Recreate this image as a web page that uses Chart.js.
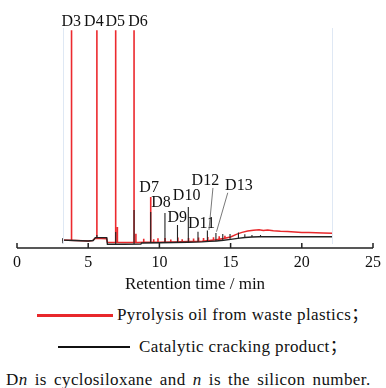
<!DOCTYPE html>
<html>
<head>
<meta charset="utf-8">
<script src="https://cdn.jsdelivr.net/npm/chart.js@4.4.0/dist/chart.umd.min.js"></script>
<style>
  body { margin: 0; background: #fff; }
  #wrap { position: relative; width: 386px; height: 388px; }
  #chart { position: absolute; left: 0; top: 0; }
  .leg { position: absolute; font-family: "Liberation Serif", "Noto Sans CJK SC", serif; font-size: 17px; line-height: 20px; letter-spacing: 0.4px; color: #111; white-space: nowrap; }
  .swatch { position: absolute; }
</style>
</head>
<body>
<div id="wrap">
  <canvas id="chart" width="386" height="300"></canvas>
  <div class="swatch" style="left:37px; top:314px; width:76px; height:3px; background:#e8282b;"></div>
  <div class="leg" style="left:117px; top:305px;">Pyrolysis oil from waste plastics；</div>
  <div class="swatch" style="left:58px; top:346px; width:72px; height:2px; background:#111;"></div>
  <div class="leg" style="left:139px; top:337px;">Catalytic cracking product；</div>
  <div class="leg" style="left:6px; top:370px; word-spacing:2.5px;">D<i>n</i> is cyclosiloxane and <i>n</i> is the silicon number.</div>
</div>
<script>
// retention time (min) and detector response (arbitrary units)
const redBaseTime = [3.2, 3.6, 4.2, 5.0, 5.3, 5.5, 6.3, 6.35, 7.5, 8.5, 9.0, 10.0, 11.0, 12.0, 13.0, 13.5, 14.0, 14.5, 15.0, 15.4, 15.8, 16.2, 16.6, 17.0, 17.3, 17.6, 18.0, 18.5, 19.0, 19.5, 20.0, 20.5, 21.0, 21.5, 22.15];
const redBaseValue = [3.6, 3.5, 3.4, 3.2, 3.4, 4.4, 4.2, 2.6, 2.5, 2.5, 2.6, 2.6, 2.7, 2.9, 3.1, 3.4, 3.8, 4.3, 5.0, 6.2, 7.1, 7.7, 8.1, 8.3, 8.0, 8.2, 7.8, 7.6, 7.5, 7.3, 7.1, 7.0, 6.9, 6.8, 6.7];

const redPeakTime = [3.83, 5.61, 6.93, 7.05, 8.22, 8.35, 8.9, 9.39, 9.6, 9.9, 10.4, 10.8, 11.3, 11.6, 12.05, 12.4, 12.75, 13.1, 13.4, 13.8, 14.2, 14.6];
const redPeakTop = [99, 99, 99, 9.5, 99, 6.5, 4.2, 23.2, 4.0, 4.4, 4.6, 3.9, 4.8, 4.0, 4.5, 4.3, 4.8, 4.6, 5.0, 4.9, 5.3, 5.6];
const redPeakFoot = [3.4, 4.3, 2.5, 2.5, 2.5, 2.5, 2.6, 2.6, 2.6, 2.6, 2.7, 2.7, 2.8, 2.8, 2.9, 3.0, 3.1, 3.2, 3.4, 3.6, 3.9, 4.3];

const blackBaseTime = [3.2, 4.0, 5.0, 5.35, 5.5, 6.3, 6.35, 7.5, 8.7, 8.75, 10.0, 11.0, 12.0, 13.0, 13.5, 14.0, 14.5, 15.0, 15.5, 16.0, 16.5, 17.0, 18.0, 20.0, 22.15];
const blackBaseValue = [3.6, 3.4, 3.2, 3.4, 4.7, 4.7, 1.7, 1.7, 1.8, 2.3, 2.4, 2.5, 2.6, 2.8, 3.0, 3.2, 3.5, 3.9, 4.4, 4.8, 5.0, 5.1, 5.1, 5.1, 5.1];

const blackPeakTime = [3.22, 5.61, 6.93, 8.22, 9.39, 10.39, 11.27, 12.03, 12.71, 13.37, 13.97, 14.45, 14.96, 15.55, 16.0, 16.5, 17.1, 17.75, 18.6, 19.6];
const blackPeakTop = [4.6, 5.9, 7.3, 17.3, 16.4, 15.9, 10.5, 18.6, 7.4, 7.9, 6.8, 6.4, 6.4, 7.0, 6.2, 5.9, 5.9, 5.5, 5.3, 5.3];
const blackPeakFoot = [2.2, 4.7, 1.7, 1.8, 2.3, 2.4, 2.5, 2.6, 2.7, 2.9, 3.2, 3.4, 3.9, 4.4, 4.8, 5.0, 5.1, 5.1, 5.1, 5.1];

// peak names and where they sit (time, response)
const peakLabels = ['D3', 'D4', 'D5', 'D6', 'D7', 'D8', 'D9', 'D10', 'D11', 'D12', 'D13'];
const labelTime = [3.81, 5.40, 6.90, 8.50, 9.28, 10.11, 11.25, 11.91, 12.95, 13.23, 15.58];
const labelValue = [102.8, 102.8, 102.8, 102.8, 27.5, 20.5, 13.9, 23.7, 10.9, 30.5, 28.3];

// leader lines for D12 and D13: [t1, v1, t2, v2]
const leaders = [[13.76, 27.3, 13.48, 8.2], [14.80, 25.1, 14.01, 7.4]];

const xTicks = [0, 5, 10, 15, 20, 25];

function trace(times, values) {
  return times.map((t, i) => ({ x: t, y: values[i] }));
}

function spikes(times, foot, top) {
  var pts = [];
  times.forEach((t, i) => {
    pts.push({ x: t, y: foot[i] });
    pts.push({ x: t, y: top[i] });
    pts.push({ x: t, y: null });
  });
  return pts;
}

const annotate = {
  id: 'annotate',
  afterDatasetsDraw(chart) {
    const ctx = chart.ctx;
    const x = chart.scales.x, y = chart.scales.y;
    const base = y.getPixelForValue(0);
    ctx.save();

    // faint frame edges of the original trace window
    ctx.strokeStyle = '#dfe8f4';
    ctx.lineWidth = 1;
    [3.2, 22.15].forEach(t => {
      var px = Math.round(x.getPixelForValue(t)) + 0.5;
      ctx.beginPath();
      ctx.moveTo(px, y.getPixelForValue(100));
      ctx.lineTo(px, base - 4);
      ctx.stroke();
    });

    // axis with inward ticks
    ctx.strokeStyle = '#222';
    ctx.lineWidth = 1.5;
    ctx.beginPath();
    ctx.moveTo(x.getPixelForValue(0), base);
    ctx.lineTo(x.getPixelForValue(25), base);
    xTicks.forEach(t => {
      var px = x.getPixelForValue(t);
      ctx.moveTo(px, base);
      ctx.lineTo(px, base - 5);
    });
    ctx.stroke();

    // leaders
    ctx.strokeStyle = '#555';
    ctx.lineWidth = 0.8;
    leaders.forEach(l => {
      ctx.beginPath();
      ctx.moveTo(x.getPixelForValue(l[0]), y.getPixelForValue(l[1]));
      ctx.lineTo(x.getPixelForValue(l[2]), y.getPixelForValue(l[3]));
      ctx.stroke();
    });

    // peak names
    ctx.fillStyle = '#111';
    ctx.font = '16px "Liberation Serif"';
    ctx.textAlign = 'center';
    ctx.textBaseline = 'middle';
    peakLabels.forEach((name, i) => {
      ctx.fillText(name, x.getPixelForValue(labelTime[i]), y.getPixelForValue(labelValue[i]));
    });
    ctx.restore();
  }
};

var ctx = document.getElementById('chart');
var gcChart = new Chart(ctx, {
  type: 'line',
  data: {
    datasets: [
      { data: trace(blackBaseTime, blackBaseValue), borderColor: '#222', borderWidth: 1.4, order: 1 },
      { data: spikes(blackPeakTime, blackPeakFoot, blackPeakTop), borderColor: '#222', borderWidth: 1.1, order: 2 },
      { data: trace(redBaseTime, redBaseValue), borderColor: '#e8282b', borderWidth: 1.5, order: 3 },
      { data: spikes(redPeakTime, redPeakFoot, redPeakTop), borderColor: '#ec2a2e', borderWidth: 1.6, order: 4 }
    ]
  },
  options: {
    responsive: false,
    animation: false,
    spanGaps: false,
    layout: { padding: { left: 17, right: 8, top: 6, bottom: 0 } },
    elements: { point: { radius: 0 }, line: { tension: 0 } },
    plugins: { legend: { display: false }, tooltip: { enabled: false } },
    scales: {
      x: {
        type: 'linear', min: 0, max: 25,
        afterBuildTicks: s => { s.ticks = xTicks.map(v => ({ value: v })); },
        afterFit: s => { s.height = 52; },
        grid: { display: false, drawTicks: false, tickLength: 0 },
        border: { display: false },
        ticks: { color: '#111', padding: 5, font: { family: '"Liberation Serif"', size: 16 } },
        title: {
          display: true, text: 'Retention time / min', color: '#111',
          font: { family: '"Liberation Serif"', size: 17 },
          padding: { top: 0, bottom: 5 }
        }
      },
      y: { display: false, min: 0, max: 110 }
    }
  },
  plugins: [annotate]
});
</script>
</body>
</html>
